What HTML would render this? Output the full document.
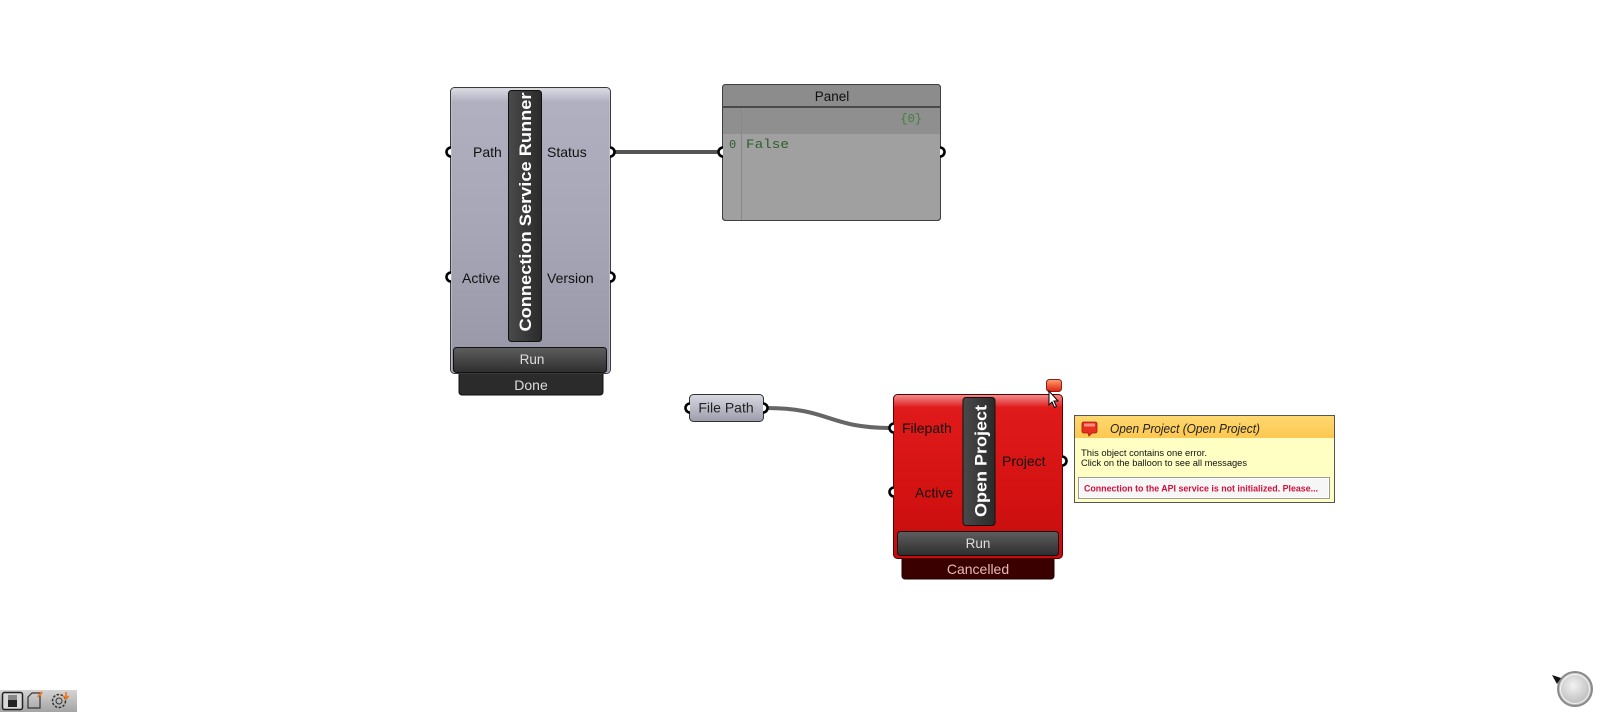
<!DOCTYPE html>
<html><head><meta charset="utf-8"><style>
html,body{margin:0;padding:0;background:#fff;}
svg{display:block;}
text{font-family:"Liberation Sans",sans-serif;}
</style></head><body>
<svg width="1600" height="714" viewBox="0 0 1600 714" xmlns="http://www.w3.org/2000/svg">
<defs>
<linearGradient id="gBody" x1="0" y1="0" x2="0" y2="1">
<stop offset="0" stop-color="#dedee6"/><stop offset="0.05" stop-color="#b0b0c0"/><stop offset="0.5" stop-color="#a6a6b6"/><stop offset="1" stop-color="#9696a6"/>
</linearGradient>
<linearGradient id="gRed" x1="0" y1="0" x2="0" y2="1">
<stop offset="0" stop-color="#f29090"/><stop offset="0.08" stop-color="#e01a1a"/><stop offset="0.6" stop-color="#d41212"/><stop offset="1" stop-color="#c40c0c"/>
</linearGradient>
<linearGradient id="gBtn" x1="0" y1="0" x2="0" y2="1">
<stop offset="0" stop-color="#5e5e5e"/><stop offset="1" stop-color="#2e2e2e"/>
</linearGradient>
<linearGradient id="gBar" x1="0" y1="0" x2="1" y2="0">
<stop offset="0" stop-color="#4a4a4a"/><stop offset="1" stop-color="#2a2a2a"/>
</linearGradient>
<linearGradient id="gFP" x1="0" y1="0" x2="0" y2="1">
<stop offset="0" stop-color="#d8d8e2"/><stop offset="1" stop-color="#9c9cac"/>
</linearGradient>
<linearGradient id="gTipH" x1="0" y1="0" x2="0" y2="1">
<stop offset="0" stop-color="#ffd870"/><stop offset="1" stop-color="#fcc850"/>
</linearGradient>
<linearGradient id="gTool" x1="0" y1="0" x2="0" y2="1">
<stop offset="0" stop-color="#d4d4d4"/><stop offset="1" stop-color="#a4a4a4"/>
</linearGradient>
<radialGradient id="gBall" cx="0.45" cy="0.4" r="0.6">
<stop offset="0" stop-color="#f2f2f2"/><stop offset="1" stop-color="#b8b8b8"/>
</radialGradient>
<linearGradient id="gBalloon" x1="0" y1="0" x2="0" y2="1">
<stop offset="0" stop-color="#ffa070"/><stop offset="1" stop-color="#e02010"/>
</linearGradient>
</defs>

<!-- wires -->
<line x1="612" y1="152" x2="721" y2="152" stroke="#555" stroke-width="4"/>
<path d="M766,408 C830,408 828,428 891,428" fill="none" stroke="#666" stroke-width="4"/>

<!-- Component 1 -->
<rect x="459" y="366" width="144" height="29" rx="3" fill="#2b2b2b" stroke="#111"/>
<rect x="450.5" y="87.5" width="160" height="286" rx="4" fill="url(#gBody)" stroke="#3a3a3a"/>
<rect x="451.5" y="88.5" width="158" height="284" rx="3" fill="none" stroke="#d0d0da" stroke-opacity="0.5"/>
<rect x="508.5" y="90.5" width="33" height="251" rx="3" fill="url(#gBar)" stroke="#111"/>
<text transform="translate(531,212) rotate(-90)" text-anchor="middle" font-size="16.5" font-weight="bold" fill="#fff" textLength="239" lengthAdjust="spacingAndGlyphs">Connection Service Runner</text>
<text x="473" y="157" font-size="14" fill="#111">Path</text>
<text x="547" y="157" font-size="14" fill="#111">Status</text>
<text x="462" y="283" font-size="14" fill="#111">Active</text>
<text x="547" y="283" font-size="14" fill="#111">Version</text>
<rect x="453.5" y="347.5" width="153" height="25" rx="3" fill="url(#gBtn)" stroke="#111"/>
<text x="532" y="364" font-size="13.5" fill="#ddd" text-anchor="middle">Run</text>
<text x="531" y="390" font-size="14" fill="#ddd" text-anchor="middle">Done</text>
<path d="M451,147.5 A4.5,4.5 0 0 0 451,156.5" fill="#fff" stroke="#000" stroke-width="2.6"/>
<path d="M451,272.5 A4.5,4.5 0 0 0 451,281.5" fill="#fff" stroke="#000" stroke-width="2.6"/>
<path d="M610,147.5 A4.5,4.5 0 0 1 610,156.5" fill="#fff" stroke="#000" stroke-width="2.6"/>
<path d="M610,272.5 A4.5,4.5 0 0 1 610,281.5" fill="#fff" stroke="#000" stroke-width="2.6"/>

<!-- Panel -->
<rect x="722.5" y="84.5" width="218" height="136" rx="3" fill="#a0a0a0" stroke="#404040"/>
<path d="M723,107 L723,88 Q723,85 726,85 L937,85 Q940,85 940,88 L940,107 Z" fill="#8c8c8c"/>
<rect x="723" y="107" width="217" height="27" fill="#8f8f8f"/>
<line x1="723" y1="107" x2="940" y2="107" stroke="#4a4a4a" stroke-width="2"/>
<line x1="741.5" y1="108" x2="741.5" y2="220" stroke="#888" stroke-width="1"/>
<rect x="722.5" y="84.5" width="218" height="136" rx="3" fill="none" stroke="#404040"/>
<text x="832" y="101" font-size="13.5" fill="#111" text-anchor="middle">Panel</text>
<text x="922" y="122" font-size="12" fill="#3f7f3f" text-anchor="end" style="font-family:'Liberation Mono',monospace">{0}</text>
<text x="729" y="148" font-size="12" fill="#2e5e2e" style="font-family:'Liberation Mono',monospace">0</text>
<text x="746" y="148" font-size="13" fill="#2e5e2e" textLength="43" lengthAdjust="spacingAndGlyphs" style="font-family:'Liberation Mono',monospace">False</text>
<path d="M723,147.5 A4.5,4.5 0 0 0 723,156.5" fill="#fff" stroke="#000" stroke-width="2.6"/>
<path d="M940,147.5 A4.5,4.5 0 0 1 940,156.5" fill="#fff" stroke="#000" stroke-width="2.6"/>

<!-- File Path -->
<rect x="689.5" y="394.5" width="74" height="27" rx="4" fill="url(#gFP)" stroke="#333"/>
<text x="726" y="412.5" font-size="14" fill="#222" text-anchor="middle">File Path</text>
<path d="M690,403.5 A4.5,4.5 0 0 0 690,412.5" fill="#fff" stroke="#000" stroke-width="2.6"/>
<path d="M763,403.5 A4.5,4.5 0 0 1 763,412.5" fill="#fff" stroke="#000" stroke-width="2.6"/>

<!-- Open Project -->
<rect x="902" y="552" width="152" height="27" rx="3" fill="#3a0000" stroke="#200000"/>
<rect x="893.5" y="394.5" width="169" height="164" rx="4" fill="url(#gRed)" stroke="#5a0000"/>
<rect x="963" y="397.5" width="32" height="128" rx="3" fill="url(#gBar)" stroke="#111"/>
<text transform="translate(986.5,461) rotate(-90)" text-anchor="middle" font-size="16.5" font-weight="bold" fill="#fff" textLength="112" lengthAdjust="spacingAndGlyphs">Open Project</text>
<text x="902" y="433" font-size="14" fill="#111">Filepath</text>
<text x="915" y="497.5" font-size="14" fill="#111">Active</text>
<text x="1002" y="466" font-size="14" fill="#111">Project</text>
<rect x="897.5" y="531.5" width="161" height="24" rx="3" fill="url(#gBtn)" stroke="#111"/>
<text x="978" y="548" font-size="13.5" fill="#ddd" text-anchor="middle">Run</text>
<text x="978" y="574" font-size="14" fill="#e6b8b8" text-anchor="middle">Cancelled</text>
<path d="M894,423.5 A4.5,4.5 0 0 0 894,432.5" fill="#fff" stroke="#000" stroke-width="2.6"/>
<path d="M894,487.5 A4.5,4.5 0 0 0 894,496.5" fill="#fff" stroke="#000" stroke-width="2.6"/>
<path d="M1062,456.5 A4.5,4.5 0 0 1 1062,465.5" fill="#fff" stroke="#000" stroke-width="2.6"/>

<!-- balloon + cursor -->
<rect x="1046.5" y="379.5" width="15" height="12" rx="3" fill="url(#gBalloon)" stroke="#8a2010"/>
<path d="M1049,391 L1049,405 L1052,402 L1054.5,407.5 L1056.5,406.5 L1054,401 L1058,401 Z" fill="#fff" stroke="#000" stroke-width="1"/>

<!-- Tooltip -->
<rect x="1074.5" y="415.5" width="260" height="87" fill="#ffffc4" stroke="#555"/>
<rect x="1075" y="416" width="259" height="22" fill="url(#gTipH)"/>
<path d="M1082,424 Q1082,422 1084,422 L1095,422 Q1097,422 1097,424 L1097,431 Q1097,433 1095,433 L1092,433 L1089,436 L1088,433 L1084,433 Q1082,433 1082,431 Z" fill="#e83020" stroke="#a01810" stroke-width="0.8"/>
<rect x="1084" y="423.5" width="11" height="3" rx="1" fill="#ff9080"/>
<text x="1110" y="433" font-size="12.5" font-style="italic" fill="#222" textLength="150" lengthAdjust="spacingAndGlyphs">Open Project (Open Project)</text>
<text x="1081" y="456" font-size="9" fill="#111" textLength="126" lengthAdjust="spacingAndGlyphs">This object contains one error.</text>
<text x="1081" y="466" font-size="9" fill="#111" textLength="166" lengthAdjust="spacingAndGlyphs">Click on the balloon to see all messages</text>
<rect x="1078.5" y="477.5" width="251" height="21" fill="#f6f6f6" stroke="#9a9a9a"/>
<rect x="1079.5" y="478.5" width="249" height="19" fill="none" stroke="#fff"/>
<text x="1084" y="491.5" font-size="9" font-weight="bold" fill="#d0103c" textLength="234" lengthAdjust="spacingAndGlyphs">Connection to the API service is not initialized. Please...</text>

<!-- bottom-left toolbar -->
<rect x="0" y="690" width="77" height="22" fill="url(#gTool)"/>
<rect x="2.5" y="692.5" width="20" height="17" rx="2" fill="#d8d8d8" stroke="#222" stroke-width="1.5"/>
<rect x="8" y="695" width="9" height="12" fill="#222"/>
<rect x="8" y="695" width="9" height="5" fill="#888"/>
<path d="M28,697 L32,693 L40,693 L40,708 L28,708 Z" fill="none" stroke="#333" stroke-width="1.2"/>
<line x1="38" y1="697" x2="42" y2="692" stroke="#f07010" stroke-width="2"/>
<circle cx="59" cy="701" r="6.5" fill="none" stroke="#333" stroke-width="1.5" stroke-dasharray="2.5,1.5"/>
<circle cx="59" cy="701" r="3" fill="none" stroke="#333" stroke-width="1"/>
<path d="M66,692 L66,698 M63.5,696 L66,699 L68.5,696" fill="none" stroke="#f07010" stroke-width="1.5"/>

<!-- nav ball -->
<circle cx="1575" cy="689" r="17" fill="url(#gBall)" stroke="#8a8a8a" stroke-width="2"/>
<circle cx="1575" cy="689" r="14.5" fill="none" stroke="#fff" stroke-width="1" stroke-opacity="0.8"/>
<path d="M1552,675 L1561,678 L1557,684 Z" fill="#111"/>
</svg>
</body></html>
